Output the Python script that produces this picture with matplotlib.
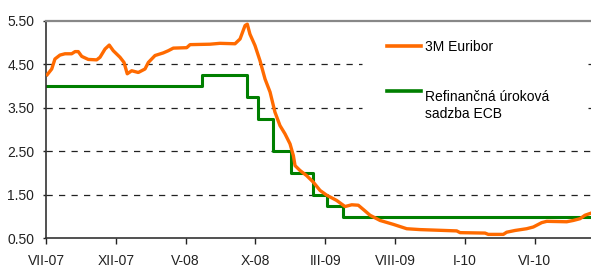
import matplotlib
matplotlib.use("Agg")
import matplotlib.pyplot as plt

plt.rcParams['font.family'] = ['Liberation Sans', 'DejaVu Sans']

# x positions in months from the first tick (VII-07)
euribor_x = [0.09, 0.41, 0.64, 1.00, 1.36, 1.84, 2.08, 2.31, 2.56, 3.03, 3.63, 3.87,
             4.23, 4.53, 4.82, 5.30, 5.59, 5.82, 6.14, 6.61, 7.09, 7.33, 7.81, 8.40,
             8.76, 9.12, 10.08, 10.32, 11.75, 12.46, 13.54, 13.90, 14.26, 14.42, 14.61,
             14.97, 15.33, 15.69, 16.05, 16.40, 16.76, 17.12, 17.48, 17.72, 17.84, 18.19,
             18.67, 19.15, 19.63, 20.11, 20.82, 21.42, 21.90, 22.37, 22.85, 23.21, 23.93,
             24.88, 25.84, 26.79, 29.42, 29.66, 31.45, 31.68, 32.76, 33.00, 33.60, 34.43,
             34.91, 35.51, 35.87, 37.30, 37.77, 38.25, 38.61, 38.97]
euribor = [4.26, 4.39, 4.62, 4.71, 4.74, 4.74, 4.79, 4.79, 4.68, 4.61, 4.60, 4.66,
           4.85, 4.94, 4.81, 4.66, 4.54, 4.28, 4.35, 4.31, 4.39, 4.54, 4.70, 4.76,
           4.81, 4.87, 4.88, 4.95, 4.96, 4.98, 4.97, 5.08, 5.39, 5.42, 5.19,
           4.93, 4.58, 4.16, 3.86, 3.40, 3.09, 2.90, 2.67, 2.40, 2.17, 2.06,
           1.94, 1.79, 1.60, 1.49, 1.37, 1.23, 1.27, 1.26, 1.13, 1.03, 0.91,
           0.82, 0.72, 0.70, 0.67, 0.63, 0.62, 0.59, 0.59, 0.64, 0.68, 0.72,
           0.76, 0.86, 0.89, 0.88, 0.91, 0.95, 1.03, 1.07]

ecb_x = [0, 11.17, 14.38, 15.21, 16.28, 17.58, 19.15, 20.11, 21.25, 39.04]
ecb = [4.00, 4.25, 3.75, 3.25, 2.50, 2.00, 1.50, 1.25, 1.00, 1.00]

tick_pos = [0, 5, 10, 15, 20, 25, 30, 35]
tick_labels = ['VII-07', 'XII-07', 'V-08', 'X-08', 'III-09', 'VIII-09', 'I-10', 'VI-10']
y_ticks = [0.5, 1.5, 2.5, 3.5, 4.5, 5.5]

fig = plt.figure(figsize=(5.91, 2.68), dpi=100)
ax = fig.add_axes([46 / 591, 1 - 238.3 / 268, 1 - 46 / 591, 217.6 / 268])

# dashed gridlines, broken where the legend sits
for y in y_ticks[1:-1]:
    if y in (3.5, 4.5):
        ax.axhline(y, xmax=0.58, color='#222222', lw=0.9, dashes=(5, 5), zorder=1)
        ax.axhline(y, xmin=0.9945, color='#222222', lw=0.9, dashes=(5, 5), zorder=1)
    else:
        ax.axhline(y, color='#222222', lw=0.9, dashes=(5, 5), zorder=1)

ax.plot(euribor_x, euribor, color='#FF6A00', lw=2.4, label='3M Euribor', zorder=3)
ax.step(ecb_x, ecb, where='post', color='#007F00', lw=2.2,
        label='Refinančná úroková\nsadzba ECB', zorder=2)

ax.set_xlim(0, 39.04)
ax.set_ylim(0.5, 5.5)
ax.set_xticks(tick_pos)
ax.set_xticklabels(tick_labels)
ax.set_yticks(y_ticks)
ax.set_yticklabels(['%.2f' % v for v in y_ticks])
ax.tick_params(axis='x', length=4, width=1, pad=7, labelsize=10, colors='#222222')
ax.tick_params(axis='y', length=2.5, width=1, pad=6, labelsize=10, colors='#222222')

ax.spines['right'].set_visible(False)
ax.spines['top'].set_color('#888888')
ax.spines['top'].set_linewidth(1.6)
for s in ('left', 'bottom'):
    ax.spines[s].set_color('#333333')
    ax.spines[s].set_linewidth(1.2)

leg = ax.legend(loc='upper left', bbox_to_anchor=(340.7 / 545, 0.91), frameon=False,
                fontsize=10, handlelength=2.5, handletextpad=0.25, labelspacing=2.6,
                borderpad=0, borderaxespad=0)
lines = leg.get_lines()
for ln in lines:
    ln.set_linewidth(2.6)
lines[1].set_ydata([v + 11 for v in lines[1].get_ydata()])

fig.savefig('out.png', dpi=100)
